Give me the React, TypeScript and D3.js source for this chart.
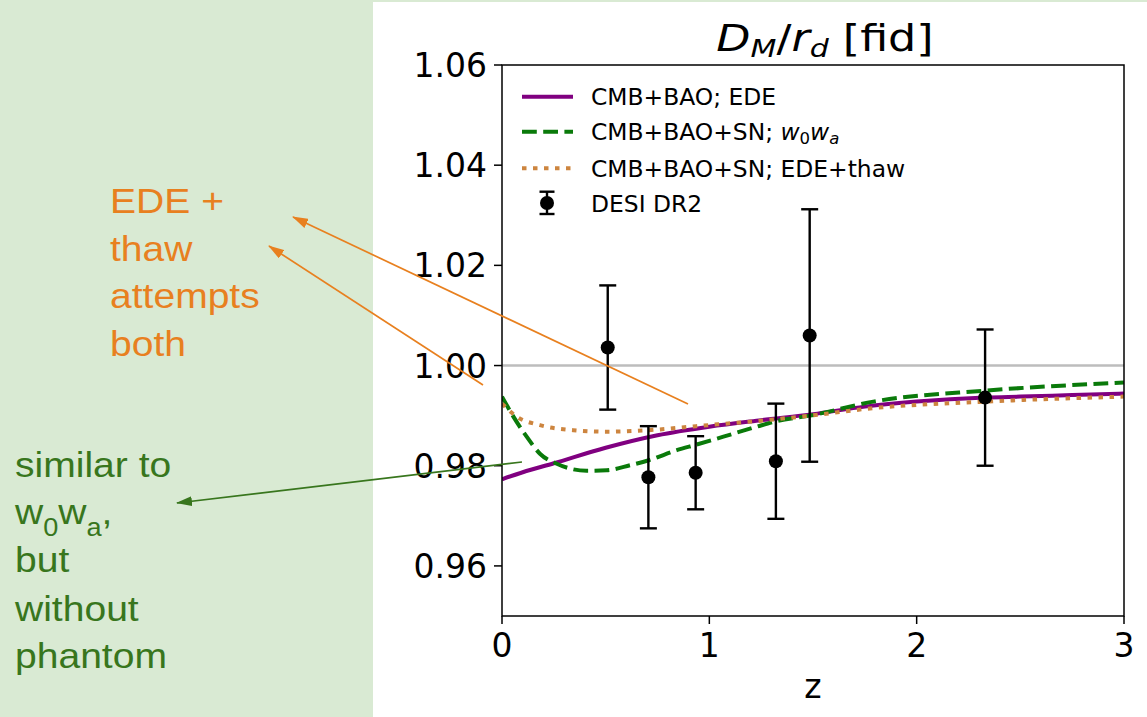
import React from 'react';
import * as d3 from 'd3';

// DESI DR2 data points
const zData = [0.51, 0.706, 0.934, 1.321, 1.484, 2.33];
const dmData = [1.0036, 0.9777, 0.9786, 0.9809, 1.006, 0.9936];
const dmErr = [0.0124, 0.0102, 0.0073, 0.0115, 0.0252, 0.0136];

// CMB+BAO; EDE
const zEDE = [0, 0.1, 0.25, 0.5, 0.75, 1, 1.25, 1.5, 1.75, 2, 2.33, 2.5, 2.75, 3];
const vEDE = [0.9773, 0.9787, 0.9805, 0.9836, 0.9861, 0.9878, 0.9891, 0.9903, 0.9918, 0.9928, 0.9936, 0.9938, 0.9941, 0.9944];

// CMB+BAO+SN; w0wa
const zW = [0, 0.055, 0.119, 0.183, 0.264, 0.408, 0.505, 0.617, 0.708, 0.843, 0.936, 1.068, 1.229, 1.325, 1.486, 1.791, 2.333, 3];
const vW = [0.9938, 0.9898, 0.9858, 0.9824, 0.9804, 0.979, 0.9791, 0.9801, 0.9811, 0.9831, 0.9842, 0.9858, 0.9878, 0.9889, 0.99, 0.9928, 0.995, 0.9966];

// CMB+BAO+SN; EDE+thaw
const zT = [0, 0.071, 0.183, 0.344, 0.505, 0.708, 0.936, 1.25, 1.486, 1.791, 2.333, 3];
const vT = [0.9924, 0.9898, 0.9881, 0.9871, 0.9868, 0.9871, 0.9879, 0.989, 0.99, 0.9915, 0.9928, 0.9938];

const yTicks = [0.96, 0.98, 1.0, 1.02, 1.04, 1.06];
const xTicks = [0, 1, 2, 3];

const ORANGE = '#e8801f';
const GREEN = '#38761d';

export default function App() {
  const W = 1147, H = 717;
  const x = d3.scaleLinear().domain([0, 3]).range([502, 1124]);
  const y = d3.scaleLinear().domain([0.95, 1.06]).range([616, 65]);
  const mk = (zs: number[], vs: number[]) =>
    d3.line<number>().x((_, i) => x(zs[i])).y((d) => y(d)).curve(d3.curveMonotoneX)(vs) || '';

  const chartFont = 'DejaVu Sans, sans-serif';
  const annFont = 'Liberation Sans, Arial, sans-serif';
  const LF = 23.4;
  const lb = 8.4;

  return (
    <svg width={W} height={H} style={{ position: 'absolute', left: 0, top: 0, display: 'block' }}>
      <defs>
        <clipPath id="plot">
          <rect x={502} y={65} width={622} height={551} />
        </clipPath>
        <marker id="arrO" markerUnits="userSpaceOnUse" markerWidth={16} markerHeight={10} refX={15} refY={5} orient="auto">
          <path d="M0,0 L16,5 L0,10 Z" fill={ORANGE} />
        </marker>
        <marker id="arrG" markerUnits="userSpaceOnUse" markerWidth={16} markerHeight={10} refX={15} refY={5} orient="auto">
          <path d="M0,0 L16,5 L0,10 Z" fill={GREEN} />
        </marker>
      </defs>
      <rect x={0} y={0} width={W} height={H} fill="#d9ead3" />
      <rect x={373} y={2} width={W - 373} height={H - 2} fill="#ffffff" />

      {/* reference line */}
      <line x1={x(0)} x2={x(3)} y1={y(1)} y2={y(1)} stroke="#bdbdbd" strokeWidth={2.6} />

      <g clipPath="url(#plot)" fill="none">
        <path d={mk(zEDE, vEDE)} stroke="#800080" strokeWidth={4} />
        <path d={mk(zW, vW)} stroke="#0a7a0a" strokeWidth={4} strokeDasharray="14.8 6.4" />
        <path d={mk(zT, vT)} stroke="#cd853f" strokeWidth={4} strokeDasharray="4.5 6.5" />
      </g>

      {/* data points */}
      <g stroke="#000" strokeWidth={2.4}>
        {zData.map((z, i) => (
          <g key={i}>
            <line x1={x(z)} x2={x(z)} y1={y(dmData[i] - dmErr[i])} y2={y(dmData[i] + dmErr[i])} />
            <line x1={x(z) - 8.5} x2={x(z) + 8.5} y1={y(dmData[i] - dmErr[i])} y2={y(dmData[i] - dmErr[i])} />
            <line x1={x(z) - 8.5} x2={x(z) + 8.5} y1={y(dmData[i] + dmErr[i])} y2={y(dmData[i] + dmErr[i])} />
            <circle cx={x(z)} cy={y(dmData[i])} r={7} fill="#000" stroke="none" />
          </g>
        ))}
      </g>

      {/* axes frame */}
      <rect x={502} y={65} width={622} height={551} fill="none" stroke="#000" strokeWidth={1.5} />
      <g fontFamily={chartFont} fontSize={33} fill="#000">
        {yTicks.map((t) => (
          <g key={t}>
            <line x1={494} x2={502} y1={y(t)} y2={y(t)} stroke="#000" strokeWidth={1.5} />
            <text x={487} y={y(t) + 12} textAnchor="end">{t.toFixed(2)}</text>
          </g>
        ))}
        {xTicks.map((t) => (
          <g key={t}>
            <line x1={x(t)} x2={x(t)} y1={616} y2={624} stroke="#000" strokeWidth={1.5} />
            <text x={x(t)} y={657} textAnchor="middle">{t}</text>
          </g>
        ))}
        <text x={813} y={698} textAnchor="middle">z</text>
        <text transform="translate(825,51) scale(1.2,1)" textAnchor="middle" fontSize={37} style={{ whiteSpace: 'pre' }}>
          <tspan fontStyle="italic">D</tspan>
          <tspan fontStyle="italic" fontSize={25} dy={6}>M</tspan>
          <tspan dy={-6}>/</tspan>
          <tspan fontStyle="italic">r</tspan>
          <tspan fontStyle="italic" fontSize={25} dy={6}>d</tspan>
          <tspan dy={-6}> [fid]</tspan>
        </text>
      </g>

      {/* legend */}
      <g fontFamily={chartFont} fontSize={LF} fill="#000">
        <line x1={522} x2={573} y1={96.7} y2={96.7} stroke="#800080" strokeWidth={4} />
        <text x={591} y={96.7 + lb}>CMB+BAO; EDE</text>
        <line x1={522} x2={573} y1={131.7} y2={131.7} stroke="#0a7a0a" strokeWidth={4} strokeDasharray="14.8 6.4" />
        <text x={591} y={131.7 + lb} style={{ whiteSpace: 'pre' }}>
          <tspan>CMB+BAO+SN; </tspan>
          <tspan fontStyle="italic">w</tspan>
          <tspan fontSize={16.5} dy={4}>0</tspan>
          <tspan fontStyle="italic" dy={-4}>w</tspan>
          <tspan fontStyle="italic" fontSize={16.5} dy={4}>a</tspan>
        </text>
        <line x1={522} x2={573} y1={168.3} y2={168.3} stroke="#cd853f" strokeWidth={4} strokeDasharray="4.5 6.5" />
        <text x={591} y={168.3 + lb}>CMB+BAO+SN; EDE+thaw</text>
        <g stroke="#000" strokeWidth={2.4}>
          <line x1={547} x2={547} y1={191.7} y2={214} />
          <line x1={539.5} x2={554.5} y1={191.7} y2={191.7} />
          <line x1={539.5} x2={554.5} y1={214} y2={214} />
          <circle cx={547} cy={203} r={7} fill="#000" stroke="none" />
        </g>
        <text x={591} y={203.3 + lb}>DESI DR2</text>
      </g>

      {/* annotations */}
      <line x1={688} y1={404} x2={293} y2={217} stroke={ORANGE} strokeWidth={1.7} markerEnd="url(#arrO)" />
      <line x1={483} y1={385} x2={269} y2={246} stroke={ORANGE} strokeWidth={1.7} markerEnd="url(#arrO)" />
      <line x1={522} y1={462} x2={177} y2={503} stroke={GREEN} strokeWidth={1.7} markerEnd="url(#arrG)" />

      <g fontFamily={annFont} fontSize={36} fill={ORANGE}>
        {[['EDE +', 212.7], ['thaw', 260.7], ['attempts', 308], ['both', 356]].map(([s, b]) => (
          <text key={s as string} transform={`translate(110,${b}) scale(1.085,1)`} style={{ whiteSpace: 'pre' }}>{s}</text>
        ))}
      </g>
      <g fontFamily={annFont} fontSize={36} fill={GREEN}>
        <text transform="translate(15,476.7) scale(1.085,1)">similar to</text>
        <text transform="translate(15,524) scale(1.085,1)">
          <tspan>w</tspan>
          <tspan fontSize={25} dy={12}>0</tspan>
          <tspan dy={-12}>w</tspan>
          <tspan fontSize={25} dy={12}>a</tspan>
          <tspan dy={-12}>,</tspan>
        </text>
        <text transform="translate(15,572) scale(1.085,1)">but</text>
        <text transform="translate(15,620.7) scale(1.085,1)">without</text>
        <text transform="translate(15,668.3) scale(1.085,1)">phantom</text>
      </g>
    </svg>
  );
}
